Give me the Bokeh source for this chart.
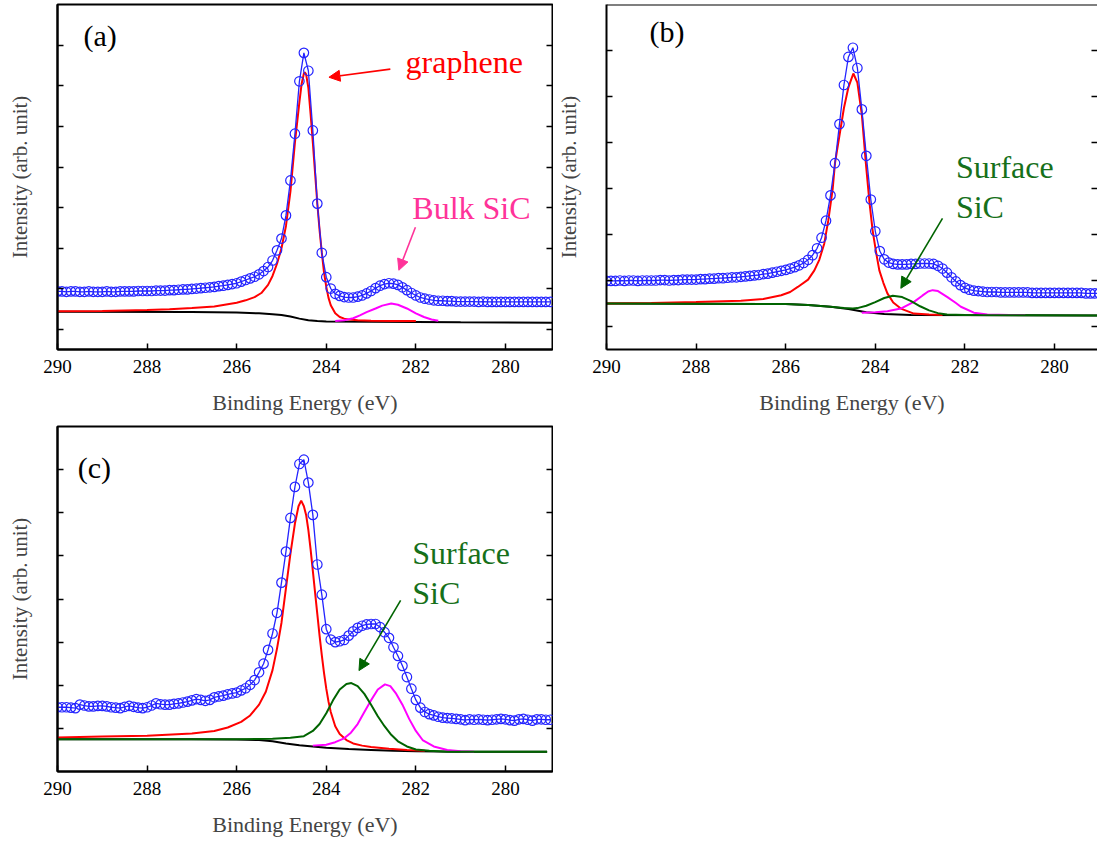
from bokeh.plotting import figure
from bokeh.models import Range1d, FixedTicker, LinearAxis, Label, Arrow, NormalHead, Span
from bokeh.layouts import column, row
from bokeh.embed import file_html
from bokeh.resources import INLINE

SERIF = "Liberation Serif"
BLUE = "#2424ff"
RED = "#ff0000"
MAGENTA = "#ff00ff"
GREEN = "#006400"
TEXT_GREEN = "#16701a"
PINK = "#ff3399"

# Binding energy grid of the measured spectra (eV)
energy = [
    290.0, 289.9, 289.8, 289.7, 289.6, 289.5, 289.4, 289.3, 289.2, 289.1,
    289.0, 288.9, 288.8, 288.7, 288.6, 288.5, 288.4, 288.3, 288.2, 288.1,
    288.0, 287.9, 287.8, 287.7, 287.6, 287.5, 287.4, 287.3, 287.2, 287.1,
    287.0, 286.9, 286.8, 286.7, 286.6, 286.5, 286.4, 286.3, 286.2, 286.1,
    286.0, 285.9, 285.8, 285.7, 285.6, 285.5, 285.4, 285.3, 285.2, 285.1,
    285.0, 284.9, 284.8, 284.7, 284.6, 284.5, 284.4, 284.3, 284.2, 284.1,
    284.0, 283.9, 283.8, 283.7, 283.6, 283.5, 283.4, 283.3, 283.2, 283.1,
    283.0, 282.9, 282.8, 282.7, 282.6, 282.5, 282.4, 282.3, 282.2, 282.1,
    282.0, 281.9, 281.8, 281.7, 281.6, 281.5, 281.4, 281.3, 281.2, 281.1,
    281.0, 280.9, 280.8, 280.7, 280.6, 280.5, 280.4, 280.3, 280.2, 280.1,
    280.0, 279.9, 279.8, 279.7, 279.6, 279.5, 279.4, 279.3, 279.2, 279.1,
    279.0,
]

x_ticks = [290, 288, 286, 284, 282, 280]

# ---- (a) ----
data_a = [
    0.94, 0.94, 0.93, 0.94, 0.94, 0.93, 0.93, 0.94, 0.93, 0.93,
    0.93, 0.94, 0.93, 0.93, 0.94, 0.94, 0.94, 0.94, 0.95, 0.95,
    0.95, 0.95, 0.96, 0.96, 0.96, 0.97, 0.97, 0.98, 0.99, 0.99,
    1.00, 1.01, 1.02, 1.03, 1.04, 1.05, 1.07, 1.08, 1.10, 1.12,
    1.14, 1.18, 1.22, 1.26, 1.30, 1.36, 1.44, 1.54, 1.70, 1.95,
    2.24, 2.81, 3.67, 4.82, 6.11, 6.81, 6.37, 4.90, 3.10, 1.89,
    1.29, 1.01, 0.88, 0.83, 0.80, 0.79, 0.79, 0.81, 0.84, 0.89,
    0.95, 1.02, 1.08, 1.12, 1.14, 1.13, 1.10, 1.04, 0.97, 0.90,
    0.84, 0.79, 0.76, 0.74, 0.72, 0.71, 0.71, 0.70, 0.70, 0.69,
    0.69, 0.69, 0.69, 0.69, 0.68, 0.69, 0.68, 0.68, 0.68, 0.68,
    0.68, 0.68, 0.68, 0.68, 0.68, 0.68, 0.68, 0.68, 0.68, 0.68,
    0.68,
]
red_a_e = [290.0, 289.0, 288.0, 287.5, 287.0, 286.5, 286.0, 285.8, 285.6, 285.45,
           285.3, 285.2, 285.1, 285.0, 284.9, 284.8, 284.7, 284.6, 284.55, 284.5,
           284.48, 284.45, 284.4, 284.35, 284.3, 284.25, 284.2, 284.15, 284.1, 284.05,
           284.0, 283.95, 283.9, 283.8, 283.7, 283.6, 283.5, 283.3, 283.0, 282.5, 282.0]
red_a = [0.45, 0.46, 0.48, 0.50, 0.53, 0.57, 0.66, 0.72, 0.80, 0.90,
         1.10, 1.32, 1.62, 2.00, 2.55, 3.40, 4.60, 5.60, 6.05, 6.30,
         6.33, 6.28, 5.95, 5.30, 4.60, 3.85, 3.10, 2.45, 1.90, 1.40,
         1.05, 0.78, 0.60, 0.40, 0.31, 0.27, 0.25, 0.23, 0.22, 0.21, 0.21]
black_a_e = [290.0, 287.0, 286.0, 285.5, 285.2, 285.0, 284.8, 284.6, 284.4, 284.2, 284.0, 283.0, 281.0, 278.95]
black_a = [0.44, 0.43, 0.42, 0.40, 0.38, 0.36, 0.32, 0.27, 0.23, 0.21, 0.20, 0.19, 0.18, 0.17]
mag_a_e = [283.8, 283.6, 283.4, 283.25, 283.1, 282.9, 282.75, 282.55, 282.4, 282.2, 282.0, 281.82, 281.65, 281.5]
mag_a = [0.21, 0.23, 0.28, 0.35, 0.43, 0.52, 0.59, 0.64, 0.61, 0.52, 0.40, 0.31, 0.25, 0.22]

# ---- (b) ----
data_b = [
    0.99, 0.99, 0.99, 1.00, 0.99, 1.00, 1.00, 0.99, 1.00, 1.00,
    1.00, 1.00, 1.01, 1.01, 1.00, 1.01, 1.01, 1.02, 1.02, 1.02,
    1.02, 1.03, 1.03, 1.04, 1.04, 1.05, 1.05, 1.06, 1.07, 1.07,
    1.08, 1.09, 1.10, 1.11, 1.12, 1.14, 1.15, 1.17, 1.19, 1.21,
    1.23, 1.26, 1.29, 1.33, 1.38, 1.45, 1.55, 1.70, 1.93, 2.30,
    2.85, 3.55, 4.40, 5.25, 5.86, 6.06, 5.62, 4.72, 3.71, 2.76,
    2.07, 1.64, 1.46, 1.39, 1.36, 1.35, 1.35, 1.35, 1.36, 1.36,
    1.37, 1.37, 1.37, 1.36, 1.32, 1.26, 1.17, 1.07, 0.98, 0.90,
    0.84, 0.80, 0.78, 0.77, 0.76, 0.75, 0.75, 0.75, 0.74, 0.74,
    0.74, 0.74, 0.74, 0.74, 0.74, 0.73, 0.73, 0.73, 0.73, 0.73,
    0.73, 0.73, 0.73, 0.73, 0.73, 0.73, 0.73, 0.72, 0.72, 0.72,
    0.72,
]
red_b_e = [290.0, 289.0, 288.0, 287.0, 286.5, 286.1, 285.9, 285.73, 285.5, 285.36,
           285.25, 285.14, 285.05, 284.95, 284.9, 284.8, 284.7, 284.6, 284.49, 284.4,
           284.3, 284.21, 284.13, 284.06, 283.98, 283.91, 283.82, 283.73, 283.6, 283.43,
           283.14, 282.8, 282.5]
red_b = [0.50, 0.51, 0.53, 0.56, 0.60, 0.68, 0.75, 0.86, 1.02, 1.22,
         1.45, 1.80, 2.30, 3.00, 3.55, 4.15, 4.75, 5.20, 5.50, 5.30,
         4.60, 3.54, 2.70, 2.09, 1.60, 1.22, 0.95, 0.72, 0.52, 0.39,
         0.28, 0.26, 0.25]
black_b_e = [290.0, 286.0, 285.5, 285.0, 284.6, 284.2, 283.8, 283.2, 279.04]
black_b = [0.50, 0.49, 0.47, 0.43, 0.38, 0.31, 0.27, 0.25, 0.24]
green_b_e = [290.0, 286.0, 285.5, 285.0, 284.7, 284.5, 284.4, 284.2, 284.0, 283.8,
             283.61, 283.4, 283.2, 283.0, 282.8, 282.6, 282.4, 282.0, 279.04]
green_b = [0.50, 0.49, 0.47, 0.43, 0.40, 0.39, 0.40, 0.45, 0.53, 0.62,
           0.67, 0.64, 0.55, 0.44, 0.35, 0.29, 0.26, 0.25, 0.24]
mag_b_e = [284.3, 284.0, 283.73, 283.43, 283.13, 282.95, 282.82, 282.72, 282.6, 282.39,
           282.2, 282.09, 281.8, 281.5, 281.0, 280.65]
mag_b = [0.30, 0.31, 0.33, 0.39, 0.54, 0.67, 0.76, 0.79, 0.77, 0.64,
         0.51, 0.43, 0.30, 0.26, 0.25, 0.25]

# ---- (c) ----
data_c = [
    0.49, 0.49, 0.49, 0.48, 0.47, 0.55, 0.53, 0.51, 0.51, 0.52,
    0.52, 0.51, 0.49, 0.48, 0.47, 0.50, 0.52, 0.50, 0.48, 0.47,
    0.49, 0.53, 0.58, 0.56, 0.55, 0.55, 0.57, 0.58, 0.60, 0.62,
    0.65, 0.68, 0.66, 0.64, 0.66, 0.72, 0.74, 0.76, 0.79, 0.81,
    0.83, 0.88, 0.93, 1.01, 1.12, 1.30, 1.50, 1.82, 2.20, 2.68,
    3.38, 4.10, 4.88, 5.60, 6.13, 6.23, 5.70, 4.95, 3.80, 3.10,
    2.30, 2.06, 2.00, 2.02, 2.05, 2.15, 2.25, 2.33, 2.38, 2.41,
    2.42, 2.42, 2.35, 2.23, 2.10, 1.88, 1.68, 1.45, 1.19, 0.92,
    0.66, 0.48, 0.38, 0.33, 0.30, 0.27, 0.25, 0.24, 0.23, 0.22,
    0.21, 0.19, 0.21, 0.20, 0.21, 0.20, 0.19, 0.20, 0.21, 0.22,
    0.21, 0.19, 0.18, 0.21, 0.22, 0.20, 0.18, 0.21, 0.21, 0.20,
    0.20,
]
red_c_e = [290.0, 289.0, 288.0, 287.0, 286.5, 286.2, 285.9, 285.7, 285.5, 285.35,
           285.2, 285.1, 285.0, 284.9, 284.8, 284.7, 284.62, 284.56, 284.5, 284.45,
           284.4, 284.35, 284.3, 284.25, 284.2, 284.15, 284.1, 284.05, 284.0, 283.95,
           283.9, 283.8, 283.7, 283.55, 283.4, 283.2, 283.0, 282.6, 282.2, 281.8]
red_c = [-0.21, -0.19, -0.17, -0.12, -0.06, 0.02, 0.15, 0.30, 0.55, 0.85,
         1.35, 1.85, 2.45, 3.25, 4.05, 4.75, 5.15, 5.28, 5.15, 4.95,
         4.60, 4.15, 3.65, 3.15, 2.65, 2.15, 1.70, 1.28, 0.92, 0.62,
         0.38, 0.05, -0.13, -0.27, -0.35, -0.40, -0.43, -0.47, -0.50, -0.52]
black_c_e = [290.0, 287.0, 286.0, 285.5, 285.2, 284.9, 284.6, 284.3, 284.0, 283.5,
             283.0, 282.5, 282.0, 281.0, 279.07]
black_c = [-0.25, -0.25, -0.26, -0.27, -0.30, -0.35, -0.39, -0.42, -0.45, -0.48,
           -0.50, -0.52, -0.53, -0.54, -0.54]
green_c_e = [290.0, 287.0, 286.0, 285.2, 284.8, 284.5, 284.3, 284.15, 284.0, 283.85,
             283.7, 283.55, 283.44, 283.3, 283.15, 283.0, 282.85, 282.7, 282.55, 282.4,
             282.2, 282.0, 281.7, 281.3, 279.07]
green_c = [-0.25, -0.25, -0.25, -0.24, -0.22, -0.18, -0.06, 0.10, 0.35, 0.65,
           0.90, 1.03, 1.05, 0.98, 0.80, 0.55, 0.28, 0.05, -0.15, -0.30,
           -0.42, -0.49, -0.52, -0.54, -0.54]
mag_c_e = [284.3, 284.0, 283.8, 283.6, 283.45, 283.3, 283.15, 283.0, 282.85, 282.69,
           282.57, 282.45, 282.3, 282.15, 282.0, 281.85, 281.6, 281.3, 281.0, 280.7]
mag_c = [-0.40, -0.38, -0.32, -0.23, -0.10, 0.10, 0.38, 0.65, 0.90, 1.02,
         0.98, 0.82, 0.55, 0.22, -0.06, -0.27, -0.42, -0.50, -0.53, -0.54]


def hide_labels(axis):
    axis.major_label_text_font_size = "1px"
    axis.major_label_text_color = None
    axis.major_label_standoff = 0


def style_ticks(axis, ticks):
    axis.ticker = FixedTicker(ticks=ticks)
    axis.major_tick_in = 6
    axis.major_tick_out = 0
    axis.major_tick_line_width = 1.5
    axis.minor_tick_line_color = None


def make_panel(width, height, x_end, y_range, y_ticks, borders, boxed=True):
    left, right, top, bottom = borders
    p = figure(width=width, height=height,
               x_range=Range1d(290, x_end), y_range=Range1d(*y_range),
               output_backend="svg", toolbar_location=None,
               min_border_left=left, min_border_right=right,
               min_border_top=top, min_border_bottom=bottom)
    p.grid.grid_line_color = None
    p.background_fill_color = "white"
    p.border_fill_color = "white"
    if boxed:
        p.outline_line_color = "black"
        p.outline_line_width = 2
        p.outline_line_alpha = 1
    else:
        p.outline_line_color = None

    xa = p.xaxis[0]
    style_ticks(xa, x_ticks)
    xa.axis_line_width = 2
    xa.major_label_text_font = SERIF
    xa.major_label_text_font_size = "19px"
    xa.major_label_text_color = "black"
    xa.major_label_standoff = 10
    xa.axis_label = "Binding Energy (eV)"
    xa.axis_label_text_font = SERIF
    xa.axis_label_text_font_size = "22px"
    xa.axis_label_text_font_style = "normal"
    xa.axis_label_standoff = 14

    ya = p.yaxis[0]
    style_ticks(ya, y_ticks)
    ya.axis_line_width = 2
    hide_labels(ya)
    ya.axis_label = "Intensity (arb. unit)"
    ya.axis_label_text_font = SERIF
    ya.axis_label_text_font_size = "21px"
    ya.axis_label_text_font_style = "normal"
    ya.axis_label_standoff = 26

    ra = LinearAxis()
    style_ticks(ra, y_ticks)
    ra.axis_line_color = None
    hide_labels(ra)
    p.add_layout(ra, "right")

    if not boxed:
        p.add_layout(Span(location=y_range[1], dimension="width",
                          line_color="black", line_width=2))
    return p


def draw(p, comps, data):
    for xs, ys, color in comps:
        p.line(xs, ys, line_color=color, line_width=2)
    p.line(energy, data, line_color=BLUE, line_width=1.3)
    p.scatter(energy, data, marker="circle", size=9.5, line_color=BLUE,
              fill_color=None, line_width=1.2)


def tag(p, x, y, text):
    p.add_layout(Label(x=x, y=y, text=text, text_font=SERIF, text_font_size="30px",
                       text_color="black", text_baseline="middle", text_align="left"))


def note(p, x, y, text, color):
    p.add_layout(Label(x=x, y=y, text=text, text_font=SERIF, text_font_size="32px",
                       text_color=color, text_baseline="alphabetic", text_align="left"))


def pointer(p, x0, y0, x1, y1, color):
    p.add_layout(Arrow(end=NormalHead(size=11, fill_color=color, line_color=color),
                       x_start=x0, y_start=y0, x_end=x1, y_end=y1,
                       line_color=color, line_width=1.6))


pa = make_panel(553, 422, 278.95, (-0.49, 8.0), [0, 1, 2, 3, 4, 5, 6, 7], (57, 1, 4, 73))
draw(pa, [(black_a_e, black_a, "black"), (red_a_e, red_a, RED), (mag_a_e, mag_a, MAGENTA)], data_a)
tag(pa, 289.42, 7.23, "(a)")
note(pa, 282.23, 6.58, "graphene", RED)
pointer(pa, 282.57, 6.41, 283.94, 6.21, RED)
note(pa, 282.08, 3.0, "Bulk SiC", PINK)
pointer(pa, 282.01, 2.52, 282.38, 1.46, PINK)

pb = make_panel(544, 422, 279.04, (-0.5, 7.0), [0, 1, 2, 3, 4, 5, 6], (52, 0, 4, 73), boxed=False)
draw(pb, [(black_b_e, black_b, "black"), (red_b_e, red_b, RED), (mag_b_e, mag_b, MAGENTA),
          (green_b_e, green_b, GREEN)], data_b)
tag(pb, 289.04, 6.42, "(b)")
note(pb, 282.2, 3.47, "Surface", TEXT_GREEN)
note(pb, 282.2, 2.60, "SiC", TEXT_GREEN)
pointer(pb, 282.5, 2.35, 283.43, 0.83, GREEN)

pc = make_panel(553, 421, 278.95, (-1.0, 7.0), [0, 1, 2, 3, 4, 5, 6], (57, 1, 4, 72))
draw(pc, [(black_c_e, black_c, "black"), (red_c_e, red_c, RED), (mag_c_e, mag_c, MAGENTA),
          (green_c_e, green_c, GREEN)], data_c)
tag(pc, 289.55, 6.05, "(c)")
note(pc, 282.08, 4.06, "Surface", TEXT_GREEN)
note(pc, 282.08, 3.13, "SiC", TEXT_GREEN)
pointer(pc, 282.34, 2.97, 283.27, 1.34, GREEN)

layout = column(row(pa, pb), pc)

with open("out.html", "w") as f:
    f.write(file_html(layout, INLINE))
